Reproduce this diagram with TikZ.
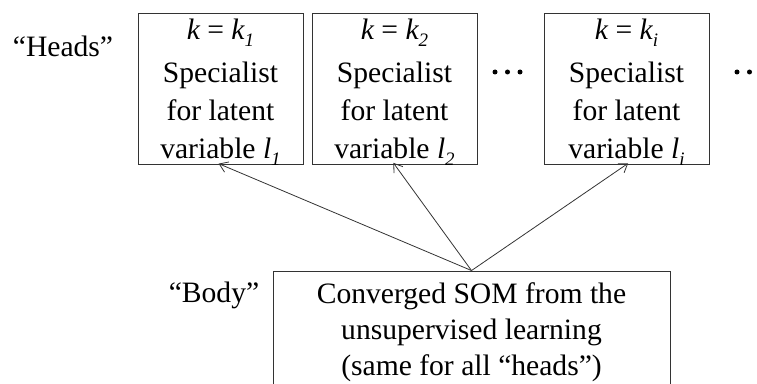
\documentclass[tikz,border=0pt]{standalone}
\usepackage{fontspec}
\setmainfont{Liberation Serif}
\usetikzlibrary{arrows.meta}
\newcommand{\mysub}[1]{\raisebox{-0.22em}{\fontsize{19}{19}\selectfont\itshape #1}}
\tikzset{
  big/.style={font=\fontsize{29.6}{38}\selectfont},
  headbox/.style={draw=black!80,line width=0.9pt,minimum width=165pt,minimum height=151pt,inner sep=0pt},
  headtext/.style={big,inner sep=0pt,align=center},
  bodybox/.style={font=\fontsize{29.6}{36}\selectfont,draw=black!80,line width=0.9pt,minimum width=397pt,minimum height=122pt,inner sep=0pt,align=center},
  conn/.style={draw=black!80,line width=0.8pt,-{Straight Barb[length=8pt,width=11pt]},shorten >=-2pt},
  bullet/.style={circle,fill=black,inner sep=0pt,minimum size=5pt},
  lbl/.style={big,anchor=base,inner sep=0pt}
}
\begin{document}
\begin{tikzpicture}[x=1pt,y=1pt]
\useasboundingbox (0,0) rectangle (757,383);
\clip (0,0) rectangle (757,383);
\node[headbox] (h1) at (220.5,294.5) {};
\node[headbox] (h2) at (394.5,294.5) {};
\node[headbox] (h3) at (626.5,294.5) {};
\node[headtext] (t1) at ([yshift=-3.5pt]h1.center) {\itshape k\upshape{} = \itshape k\mysub{1}\\[5pt]Specialist\\for latent\\variable \itshape l\mysub{1}};
\node[headtext] (t2) at ([yshift=-3.5pt]h2.center) {\itshape k\upshape{} = \itshape k\mysub{2}\\[5pt]Specialist\\for latent\\variable \itshape l\mysub{2}};
\node[headtext] (t3) at ([yshift=-3.5pt]h3.center) {\itshape k\upshape{} = \itshape k\mysub{i}\\[5pt]Specialist\\for latent\\variable \itshape l\mysub{i}};
\node[bodybox] (body) at (471.5,51) {Converged SOM from the\\unsupervised learning\\(same for all “heads”)};
\node[lbl] (lh) at (63,326) {“Heads”};
\node[lbl] (lb) at (214,81) {“Body”};
\node[bullet] (a1) at (495,311) {};
\node[bullet] (a2) at (507.5,311) {};
\node[bullet] (a3) at (520,311) {};
\node[bullet] (b1) at (737,311) {};
\node[bullet] (b2) at (749.5,311) {};
\node[bullet] (b3) at (762,311) {};
\draw[conn] (body.north) -- (h1.south);
\draw[conn] (body.north) -- (h2.south);
\draw[conn] (body.north) -- (h3.south);
\end{tikzpicture}
\end{document}
